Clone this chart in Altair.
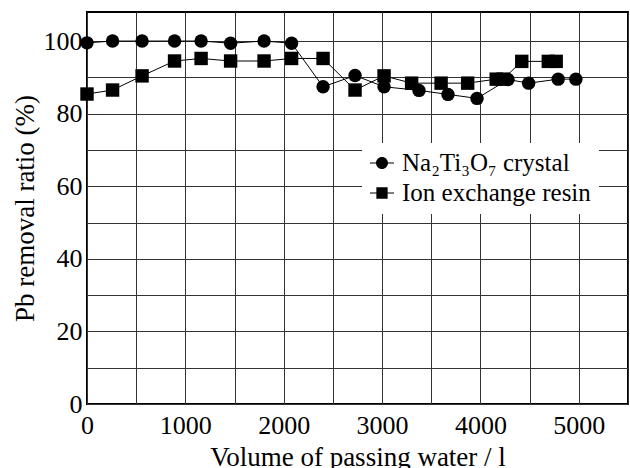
import altair as alt
import pandas as pd

# Na2Ti3O7 crystal
na_x = [0, 260, 560, 890, 1160, 1460, 1800, 2080, 2400, 2725, 3020, 3375, 3670, 3965, 4280, 4490, 4790, 4970]
na_y = [99.5, 100, 100, 100, 100, 99.4, 100, 99.4, 87.4, 90.5, 87.4, 86.4, 85.3, 84.2, 89.4, 88.4, 89.5, 89.5]
# Ion exchange resin
ion_x = [0, 260, 560, 890, 1160, 1460, 1800, 2080, 2400, 2725, 3020, 3300, 3600, 3870, 4160, 4230, 4420, 4690, 4770]
ion_y = [85.4, 86.5, 90.4, 94.5, 95.2, 94.5, 94.5, 95.2, 95.2, 86.5, 90.4, 88.4, 88.4, 88.4, 89.5, 89.5, 94.4, 94.4, 94.4]

series_names = ["Na\u2082Ti\u2083O\u2087 crystal", "Ion exchange resin"]
x_grid = list(range(0, 5501, 500))
y_grid = list(range(0, 101, 10))

FONT = "Liberation Serif, Times New Roman, Times, serif"

df = pd.concat([
    pd.DataFrame({"x": na_x, "y": na_y, "series": series_names[0], "order": range(len(na_x))}),
    pd.DataFrame({"x": ion_x, "y": ion_y, "series": series_names[1], "order": range(len(ion_x))}),
], ignore_index=True)

x_enc = alt.X("x:Q", scale=alt.Scale(domain=[0, 5500], nice=False, zero=False),
              axis=alt.Axis(values=x_grid, title="Volume of passing water / l",
                            labelExpr="(datum.value % 1000 == 0 && datum.value <= 5000) ? datum.label : ''",
                            format="d", labelFont=FONT, titleFont=FONT, labelFlush=False,
                            labelPadding=8, titlePadding=6))
y_enc = alt.Y("y:Q", scale=alt.Scale(domain=[0, 108], nice=False),
              axis=alt.Axis(values=y_grid, title="Pb removal ratio (%)",
                            labelExpr="datum.value % 20 == 0 ? datum.label : ''",
                            labelFont=FONT, titleFont=FONT, labelFlush=False,
                            labelPadding=5, titlePadding=4))

lines = alt.Chart(df).mark_line(color="black", strokeWidth=1).encode(
    x=x_enc, y=y_enc, detail="series:N", order="order:Q")

points = alt.Chart(df).mark_point(filled=True, color="black", opacity=1, size=180).encode(
    x=x_enc, y=y_enc,
    shape=alt.Shape("series:N", scale=alt.Scale(domain=series_names, range=["circle", "square"]),
                    legend=None))

# legend glyphs: a short horizontal line with the marker on it (filled shapes only)
circle_path = "M-1,-0.05H1V0.05H-1ZM0.5,0A0.5,0.5,0,1,1,-0.5,0A0.5,0.5,0,1,1,0.5,0Z"
square_path = "M-1,-0.05H1V0.05H-1ZM-0.47,-0.47H0.47V0.47H-0.47Z"

legend_layer = alt.Chart(df).transform_filter("false").mark_point(
    filled=True, color="black", opacity=1).encode(
    x=x_enc, y=y_enc,
    shape=alt.Shape("series:N",
                    scale=alt.Scale(domain=series_names, range=[circle_path, square_path]),
                    legend=alt.Legend(title=None, orient="none", legendX=275, legendY=131,
                                      fillColor="white", padding=7, symbolSize=576,
                                      symbolFillColor="black", symbolOpacity=1,
                                      labelFont=FONT, labelFontSize=25, labelColor="black",
                                      labelLimit=400,
                                      labelOffset=7, rowPadding=4, strokeColor="white")))

chart = alt.layer(lines, points, legend_layer).resolve_scale(shape="independent").properties(
    width=541, height=392,
    autosize=alt.AutoSizeParams(type="none"),
    padding={"left": 87, "top": 12, "right": 2, "bottom": 64},
    background="white",
).configure_view(stroke="black", strokeWidth=2).configure_axis(
    domain=False, ticks=False, grid=True, gridColor="#333333", gridWidth=1, gridOpacity=1,
    labelFont=FONT, labelFontSize=26, labelColor="black",
    titleFont=FONT, titleFontSize=27, titleFontWeight="normal", titleColor="black",
)

chart.save("out.html", embed_options={"renderer": "svg", "actions": False})
